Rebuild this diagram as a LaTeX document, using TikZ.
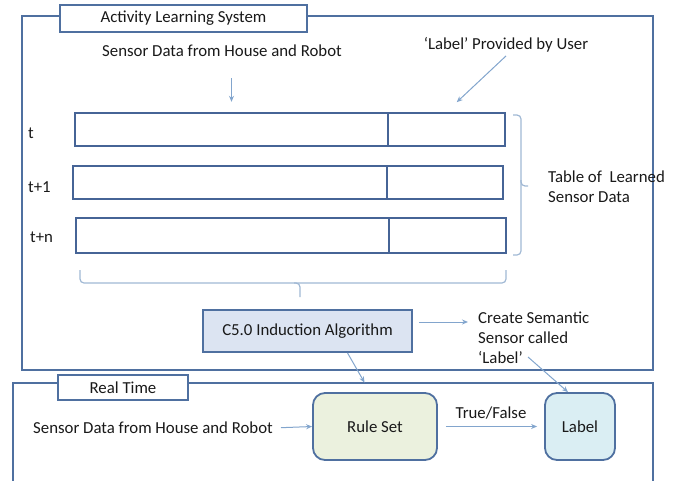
\documentclass[tikz,border=0pt]{standalone}
\usepackage{fontspec}
\setmainfont{Carlito}
\usetikzlibrary{arrows.meta}
\definecolor{frameblue}{RGB}{79,112,160}
\definecolor{rowblue}{RGB}{70,100,150}
\definecolor{arrowblue}{RGB}{130,165,205}
\definecolor{braceblue}{RGB}{160,184,212}
\definecolor{txtgray}{RGB}{25,25,25}
\definecolor{algofill}{RGB}{220,228,242}
\definecolor{rulefill}{RGB}{235,241,222}
\definecolor{labelfill}{RGB}{218,238,243}

\begin{document}
\begin{tikzpicture}[x=1pt,y=-1pt,font=\fontsize{16.8}{20}\selectfont,text=txtgray]
        \useasboundingbox (0,0) rectangle (680,480);
        \clip (0,0) rectangle (680,480);
        % outer frames
        \draw[frameblue, line width=1.8pt] (22,16) rectangle (653,370);
        \draw[frameblue, line width=1.8pt] (13,383) rectangle (653,500);
        \begin{scope}[every node/.style={rectangle,draw=frameblue,line width=1.8pt,fill=white,inner sep=0pt}]
            \node (ttlA) [minimum width=247pt, minimum height=27pt] at (183.5,18.5) {Activity Learning System};
            \node (ttlR) [minimum width=130pt, minimum height=25pt] at (123,387.5) {Real Time};
        \end{scope}
        % table rows
        \begin{scope}[every node/.style={rectangle,draw=rowblue,line width=2.4pt,inner sep=0pt,minimum height=33pt}]
            \node (r0a) [minimum width=313pt] at (231.5,129.5) {};
            \node (r0b) [minimum width=117pt] at (446.5,129.5) {};
            \node (r1a) [minimum width=314pt] at (230,182.5) {};
            \node (r1b) [minimum width=116pt] at (445,182.5) {};
            \node (r2a) [minimum width=313pt, minimum height=35pt] at (232.5,235.5) {};
            \node (r2b) [minimum width=117pt, minimum height=35pt] at (447.5,235.5) {};
        \end{scope}
        \begin{scope}[every node/.style={anchor=west,inner sep=0pt}]
            \node (t0) at (28,133) {t};
            \node (t1) at (28,187) {t+1};
            \node (tn) at (30,237) {t+n};
        \end{scope}
        % braces
        \draw[braceblue, line width=1.2pt, rounded corners=4pt] (513,115) -- (521,115) -- (521,186) -- (528,186);
        \draw[braceblue, line width=1.2pt, rounded corners=4pt] (521,180) -- (521,255) -- (513,255);
        \draw[braceblue, line width=1.2pt, rounded corners=4pt] (80,270) -- (80,283) -- (300,283) -- (300,297);
        \draw[braceblue, line width=1.2pt, rounded corners=4pt] (294,283) -- (506,283) -- (506,270);
        % texts
        \node (srcA) at (222,51) {Sensor Data from House and Robot};
        \node (usr) at (506,45) {‘Label’ Provided by User};
        \node (tbl) [anchor=west, align=left, inner sep=0pt] at (548,187) {Table of \ Learned\\Sensor Data};
        \node (sem) [anchor=north west, align=left, inner sep=0pt] at (478,312) {Create Semantic\\Sensor called\\‘Label’};
        \coordinate (semEnd) at (528,357);
        \node (srcB) [anchor=west, inner sep=0pt] at (33,428) {Sensor Data from House and Robot};
        % boxes
        \node (algo) [draw=frameblue, line width=1.8pt, fill=algofill, minimum width=209pt, minimum height=42pt] at (307.5,331) {C5.0 Induction Algorithm};
        \begin{scope}[every node/.style={rectangle,rounded corners=12pt,draw=frameblue,line width=1.8pt,minimum height=67pt}]
            \node (rules) [fill=rulefill, minimum width=124pt] at (375,426.5) {Rule Set};
            \node (lab) [fill=labelfill, minimum width=70pt] at (580,426.5) {Label};
        \end{scope}
        % arrows
        \begin{scope}[arrowblue, line width=1pt, ->, >={Stealth[length=6pt,width=5pt]}]
            \path (srcA.south -| r0a.north) edge[shorten <=18pt, shorten >=10pt] (r0a.north);
            \path (usr.south) edge[shorten >=14pt] (r0b.north);
            \path ([yshift=9pt]algo.east) edge[shorten <=6pt, shorten >=10pt] ([yshift=9pt]algo.east -| sem.west);
            \path ([xshift=40pt]algo.south) edge[shorten >=11pt] ([xshift=-5pt]rules.north);
            \path (semEnd) edge (lab.north -| 568,0);
            \path (srcB.east) edge[shorten <=8pt] (rules.west);
            \path (rules.east) edge[shorten <=8pt, shorten >=7pt] node[above, text=txtgray, yshift=3pt] {True/False} (lab.west);
        \end{scope}
    \end{tikzpicture}
\end{document}
